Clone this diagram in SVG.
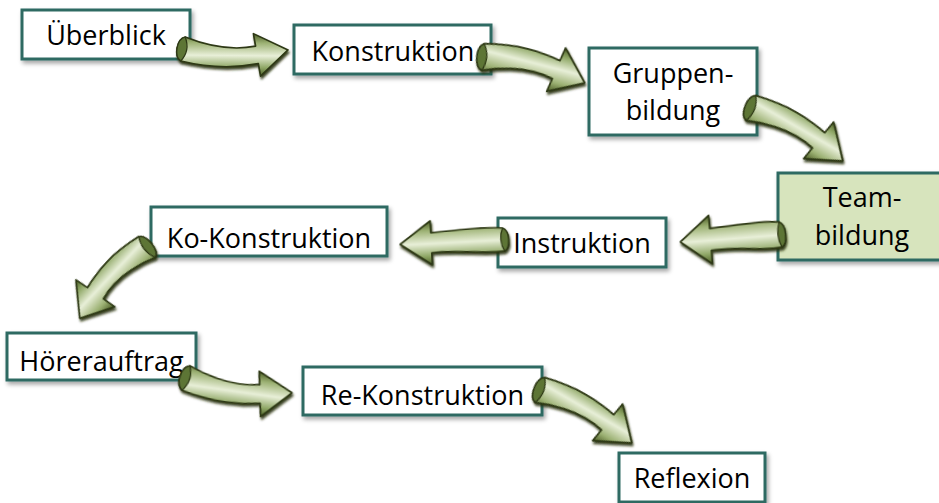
<svg xmlns="http://www.w3.org/2000/svg" xmlns:xlink="http://www.w3.org/1999/xlink" width="939" height="503" viewBox="0 0 939 503">
<defs>
<style>
.box{fill:#ffffff;stroke:#2e6a62;stroke-width:3;filter:url(#sh)}
.team{fill:#d7e4bd}
.lbl{font-family:"Open Sans","Noto Sans","Liberation Sans",sans-serif;font-size:27px;fill:#000;text-anchor:middle}
.arr{fill:url(#ag);stroke:#2d3814;stroke-width:1.6;stroke-linejoin:round}
.cap{fill:#5d7436;stroke:#2d3814;stroke-width:1.2}
</style>
<filter id="sh" x="-10%" y="-20%" width="130%" height="160%">
<feDropShadow dx="2" dy="3" stdDeviation="2" flood-color="#000" flood-opacity="0.35"/>
</filter>
<filter id="ash" x="-20%" y="-20%" width="140%" height="160%">
<feDropShadow dx="1" dy="2.5" stdDeviation="0.8" flood-color="#26320e" flood-opacity="0.9"/>
</filter>
<linearGradient id="ag" x1="0" y1="0" x2="0" y2="1">
<stop offset="0" stop-color="#4b5e26"/>
<stop offset="0.2" stop-color="#8fa766"/>
<stop offset="0.48" stop-color="#e8efd8"/>
<stop offset="0.78" stop-color="#9cb173"/>
<stop offset="1" stop-color="#4a5c24"/>
</linearGradient>
<g id="arrC">
<path class="arr" d="M -2,-12 C 22,-18 48,-19 71.9,-14 L 74.1,-26.5 L 100,0 L 66.9,16 L 69.1,3.5 C 48,-1 24,3 2,12 C -6,10 -9,-7 -2,-12 Z"/>
<path class="cap" d="M -2,-12 C -9,-7 -6,10 2,12 C 5,4 4,-5 -2,-12 Z"/>
</g>
<g id="arrS">
<path class="arr" d="M 0,-12 C 20,-14 45,-8 70,-10 L 70,-22 L 100,0 L 70,22 L 70,10 C 45,11 22,14 1,11 C -6,8 -6,-9 0,-12 Z"/>
<path class="cap" d="M 0,-12 C -6,-9 -6,8 1,11 C 4,4 4,-5 0,-12 Z"/>
</g>
</defs>
<rect width="939" height="503" fill="#ffffff"/>
<g id="nodes">
<g id="n-ueberblick"><rect class="box" x="22" y="10" width="168" height="49"/><text class="lbl" x="106" y="45">Überblick</text></g>
<g id="n-konstruktion"><rect class="box" x="294" y="25" width="197" height="49"/><text class="lbl" x="393" y="61">Konstruktion</text></g>
<g id="n-gruppenbildung"><rect class="box" x="589" y="48" width="168" height="87"/><text class="lbl" x="673" y="83">Gruppen-</text><text class="lbl" x="673" y="120">bildung</text></g>
<g id="n-teambildung"><rect class="box team" x="778" y="173" width="168" height="87"/><text class="lbl" x="862" y="207">Team-</text><text class="lbl" x="862" y="245">bildung</text></g>
<g id="n-instruktion"><rect class="box" x="498" y="218" width="168" height="49"/><text class="lbl" x="582" y="253">Instruktion</text></g>
<g id="n-kokonstruktion"><rect class="box" x="151" y="207" width="236" height="49"/><text class="lbl" x="269" y="248">Ko-Konstruktion</text></g>
<g id="n-hoererauftrag"><rect class="box" x="7" y="333" width="189" height="47"/><text class="lbl" x="101.5" y="371">Hörerauftrag</text></g>
<g id="n-rekonstruktion"><rect class="box" x="303" y="367" width="239" height="48"/><text class="lbl" x="422.5" y="405">Re-Konstruktion</text></g>
<g id="n-reflexion"><rect class="box" x="619" y="453" width="146" height="49"/><text class="lbl" x="692" y="488">Reflexion</text></g>
</g>
<g id="connectors" filter="url(#ash)">
<use xlink:href="#arrC" href="#arrC" transform="translate(183,49) rotate(0.5) scale(1.05,-1.0)"/>
<use xlink:href="#arrC" href="#arrC" transform="translate(483,57) rotate(14.3) scale(1.05,1.1)"/>
<use xlink:href="#arrC" href="#arrC" transform="translate(751,108) rotate(30) scale(1.06,1.1)"/>
<use xlink:href="#arrS" href="#arrS" transform="translate(781,234) rotate(175.5) scale(1.01,1.1)"/>
<use xlink:href="#arrS" href="#arrS" transform="translate(504,239) rotate(177) scale(1.04,1.0)"/>
<use xlink:href="#arrC" href="#arrC" transform="translate(147,247) rotate(133.3) scale(0.98,-1.1)"/>
<use xlink:href="#arrC" href="#arrC" transform="translate(186,378) rotate(8) scale(1.07,-1.05)"/>
<use xlink:href="#arrC" href="#arrC" transform="translate(540,390) rotate(30) scale(1.06,1.1)"/>
</g>
</svg>
